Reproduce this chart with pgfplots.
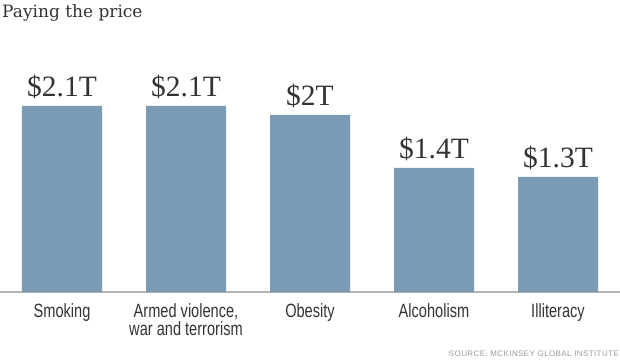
\documentclass[border=0pt]{standalone}
\usepackage{fontspec}
\setmainfont{Liberation Serif}
\newfontfamily\titlefont{DejaVu Serif}
\newfontfamily\narrowfont[FakeStretch=0.76]{Liberation Sans}
\newfontfamily\srcfont[LetterSpace=5]{Liberation Sans}
\usepackage{pgfplots}
\pgfplotsset{compat=1.18}
\definecolor{barcol}{HTML}{7A9BB3}
\definecolor{txt}{HTML}{333333}
\definecolor{axline}{HTML}{B4B4B4}
\begin{document}
\begin{tikzpicture}
\useasboundingbox (0pt,-67pt) rectangle (620pt,292pt);
\begin{axis}[
  at={(0pt,0pt)}, anchor=south west,
  scale only axis, width=620pt, height=222pt,
  xmin=-0.5, xmax=4.5, ymin=0, ymax=2.506,
  clip=false,
  axis x line*=bottom, axis y line=none,
  x axis line style={draw=axline, line width=1.2pt, -},
  ytick=\empty,
  xtick={0,1,2,3,4},
  xticklabels={Smoking,{Armed violence,\\war and terrorism},Obesity,Alcoholism,Illiteracy},
  major tick length=0pt,
  xtick style={draw=none},
  xticklabel style={font=\narrowfont\fontsize{19.2}{17.5}\selectfont, text=txt, align=center, anchor=north, inner sep=0pt, yshift=-11.5pt},
  /pgf/number format/assume math mode=true,
  ybar, bar width=80pt,
  nodes near coords={\$\pgfmathprintnumber{\pgfplotspointmeta}T},
  nodes near coords style={font=\fontsize{29.5}{30}\selectfont, text=txt, anchor=base, inner sep=0pt, yshift=9pt, /pgf/number format/fixed, /pgf/number format/precision=1},
]
\addplot[fill=barcol, draw=none] coordinates {(0,2.1) (1,2.1) (2,2.0) (3,1.4) (4,1.3)};
\end{axis}
\node[anchor=base west, inner sep=0pt, text=txt, font=\titlefont\fontsize{17}{18}\selectfont] at (2pt,274pt) {Paying the price};
\node[anchor=base east, inner sep=0pt, text=gray!80, font=\srcfont\fontsize{8}{9}\selectfont] at (619pt,-64pt) {SOURCE: MCKINSEY GLOBAL INSTITUTE};
\end{tikzpicture}
\end{document}
